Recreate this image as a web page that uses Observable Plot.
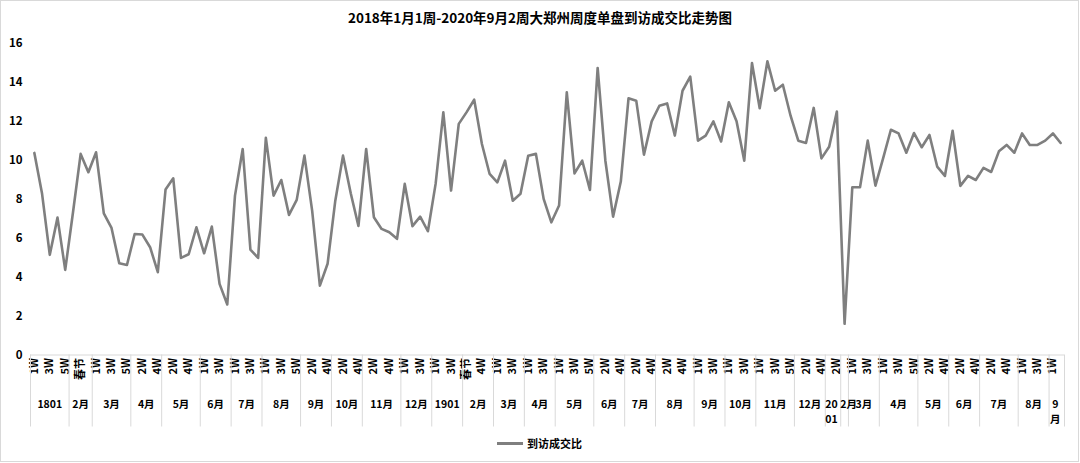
<!DOCTYPE html>
<html>
<head>
<meta charset="utf-8">
<script src="https://cdn.jsdelivr.net/npm/d3@7"></script>
<script src="https://cdn.jsdelivr.net/npm/@observablehq/plot@0.6"></script>
<style>
  body { margin: 0; background: #fff; }
  #wrap { position: relative; width: 1080px; height: 463px; font-family: "Noto Sans CJK SC", "Noto Sans", sans-serif; }
  #border { position: absolute; left: 0; top: 0; width: 1077px; height: 460px; border: 1px solid #d9d9d9; }
  #title { position: absolute; left: 0; top: 7px; width: 1080px; text-align: center; font-weight: bold; font-size: 13.5px; line-height: 20px; color: #000; }
  #chart { position: absolute; left: 0; top: 30px; }
  #legend { position: absolute; left: 497px; top: 434px; height: 18px; display: flex; align-items: center; font-size: 11px; font-weight: bold; color: #000; }
  #legend .sw { display: inline-block; width: 26px; height: 0; border-top: 3px solid #7f7f7f; margin-right: 4px; }
</style>
</head>
<body>
<div id="wrap">
  <div id="border"></div>
  <div id="title"></div>
  <div id="chart"></div>
  <div id="legend"><span class="sw"></span><span id="legendText"></span></div>
</div>
<script>
const chartTitle = "2018年1月1周-2020年9月2周大郑州周度单盘到访成交比走势图";
const seriesName = "到访成交比";

// month groups and the week labels inside each group
const monthNames = [
  "1801","2月","3月","4月","5月","6月","7月","8月","9月","10月","11月","12月",
  "1901","2月","3月","4月","5月","6月","7月","8月","9月","10月","11月","12月",
  "2001","2月","3月","4月","5月","6月","7月","8月","9月"
];
const monthWeeks = [
  ["1W","2W","3W","4W","5W"], ["1W","春节","4W"], ["1W","2W","3W","4W","5W"], ["1W","2W","3W","4W"],
  ["1W","2W","3W","4W","5W"], ["1W","2W","3W","4W"], ["1W","2W","3W","4W"], ["1W","2W","3W","4W","5W"],
  ["1W","2W","3W","4W"], ["1W","2W","3W","4W"], ["1W","2W","3W","4W","5W"], ["1W","2W","3W","4W"],
  ["1W","2W","3W","4W"], ["春节","3W","4W","5W"], ["1W","2W","3W","4W"], ["1W","2W","3W","4W"],
  ["1W","2W","3W","4W","5W"], ["1W","2W","3W","4W"], ["1W","2W","3W","4W"], ["1W","2W","3W","4W","5W"],
  ["1W","2W","3W","4W"], ["1W","2W","3W","4W"], ["1W","2W","3W","4W","5W"], ["1W","2W","3W","4W"],
  ["1W","2W"], ["1W"], ["1W","2W","3W","4W"], ["1W","2W","3W","4W","5W"],
  ["1W","2W","3W","4W"], ["1W","2W","3W","4W"], ["1W","2W","3W","4W","5W"], ["1W","2W","3W","4W"],
  ["1W","2W"]
];

// weekly ratio values, in order
const ratio = [
  10.37, 8.27, 5.14, 7.05, 4.37, 7.3, 10.32, 9.38, 10.4, 7.27,
  6.52, 4.71, 4.62, 6.21, 6.18, 5.53, 4.25, 8.49, 9.07, 4.98,
  5.17, 6.55, 5.22, 6.59, 3.65, 2.59, 8.18, 10.57, 5.41, 4.98,
  11.14, 8.18, 8.98, 7.19, 7.96, 10.23, 7.41, 3.56, 4.68, 7.92,
  10.23, 8.3, 6.62, 10.57, 7.07, 6.47, 6.3, 5.96, 8.78, 6.61,
  7.1, 6.35, 8.78, 12.45, 8.44, 11.86, 12.45, 13.1, 10.83, 9.29,
  8.86, 9.97, 7.92, 8.27, 10.23, 10.32, 8.01, 6.81, 7.67, 13.48,
  9.32, 9.97, 8.47, 14.73, 9.97, 7.1, 8.9, 13.17, 13.05, 10.28,
  11.99, 12.79, 12.91, 11.26, 13.56, 14.28, 11.0, 11.26, 11.99, 10.96,
  12.97, 11.99, 9.97, 14.98, 12.66, 15.07, 13.56, 13.87, 12.28, 11.0,
  10.88, 12.68, 10.09, 10.69, 12.49, 1.6, 8.61, 8.61, 11.0, 8.69,
  10.1, 11.56, 11.37, 10.38, 11.39, 10.66, 11.29, 9.67, 9.19, 11.51,
  8.68, 9.19, 8.98, 9.6, 9.39, 10.45, 10.78, 10.38, 11.37, 10.78,
  10.78, 11.0, 11.37, 10.88
];
const yTicks = [0, 2, 4, 6, 8, 10, 12, 14, 16];

// derived tables
const weekLabels = monthWeeks.flat();
const data = ratio.map((v, i) => ({i, v}));
const groups = [];
let start = 0;
monthNames.forEach((name, k) => {
  const n = monthWeeks[k].length;
  groups.push({name, start, n});
  start += n;
});
const N = weekLabels.length;
const bounds = groups.map(g => g.start).concat([N]);
const labelTicks = d3.range(0, N, 2).map(i => i + 0.5);

document.getElementById("title").textContent = chartTitle;
document.getElementById("legendText").textContent = seriesName;

const H = 400, mT = 12.7, mB = 75.5;
const plotH = H - mT - mB;

const wrap2 = s => s.slice(0, Math.ceil(s.length / 2)) + "\n" + s.slice(Math.ceil(s.length / 2));
const monthTextOpts = {
  x: d => d.start + d.n / 2,
  frameAnchor: "bottom", lineAnchor: "top", dy: 42, lineHeight: 1.45,
  fontSize: 10.5, fontWeight: "bold", fill: "#000"
};

const chart = Plot.plot({
  width: 1080,
  height: H,
  marginLeft: 30,
  marginRight: 16,
  marginTop: mT,
  marginBottom: mB,
  style: {fontFamily: '"Noto Sans CJK SC", "Noto Sans", sans-serif', color: "#000", background: "transparent"},
  x: {type: "linear", domain: [0, N]},
  y: {domain: [0, 16]},
  marks: [
    Plot.axisY({ticks: yTicks, tickSize: 0, tickPadding: 8, fontSize: 11.5, fontWeight: "bold", label: null}),
    Plot.axisX({ticks: labelTicks, tickFormat: d => weekLabels[Math.floor(d)], tickRotate: -90, tickSize: 0, tickPadding: 3, fontSize: 11, fontWeight: "bold", label: null}),
    Plot.ruleX(bounds, {x: d => d, stroke: "#d9d9d9", strokeWidth: 1, insetTop: plotH, insetBottom: -72}),
    Plot.ruleY([0], {stroke: "#d9d9d9", strokeWidth: 1}),
    Plot.text(groups.filter(g => g.n >= 3), {...monthTextOpts, text: "name"}),
    Plot.text(groups.filter(g => g.n === 2), {...monthTextOpts, text: d => wrap2(d.name), dx: -1.5}),
    Plot.text(groups.filter(g => g.n === 1), {...monthTextOpts, text: "name", dx: 4}),
    Plot.line(data, {x: d => d.i + 0.5, y: "v", stroke: "#7f7f7f", strokeWidth: 2.6, strokeLinejoin: "round", strokeLinecap: "round"})
  ]
});
document.getElementById("chart").appendChild(chart);
</script>
</body>
</html>
